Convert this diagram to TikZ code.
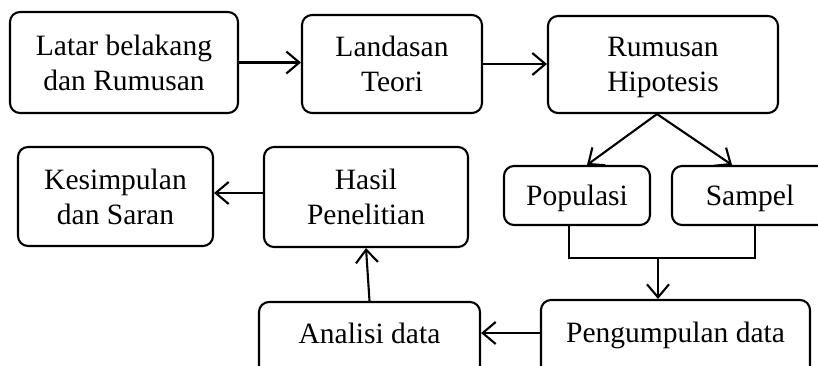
\documentclass[tikz,border=0pt]{standalone}
\usepackage{fontspec}
\setmainfont{Liberation Serif}
\usetikzlibrary{arrows.meta,calc}
\begin{document}
\begin{tikzpicture}[x=1pt,y=-1pt,
 box/.style={draw,line width=2.1pt,rounded corners=10pt,align=center,inner sep=0pt,text depth=0pt,font=\fontsize{29.5}{35}\selectfont},
 lowtext/.style={text depth=12pt},
 arr/.style={line width=2.1pt,-{Straight Barb[length=13pt,width=22pt]}},
 ln/.style={line width=2.1pt}]
\useasboundingbox (0,0) rectangle (818,365);
\clip (0,0) rectangle (818,365);
\node[box,minimum width=228pt,minimum height=101pt] (lb) at (124,62.5) {Latar belakang\\dan Rumusan};
\node[box,minimum width=180pt,minimum height=98pt] (lt) at (392,64) {Landasan\\Teori};
\node[box,minimum width=230pt,minimum height=97pt] (rh) at (663,64.5) {Rumusan\\Hipotesis};
\node[box,minimum width=146pt,minimum height=59pt] (pop) at (577,195.5) {Populasi};
\node[box,minimum width=156pt,minimum height=59pt] (sam) at (750,195.5) {Sampel};
\node[box,lowtext,minimum width=269pt,minimum height=76pt] (pd) at (675.5,338) {Pengumpulan data};
\node[box,lowtext,minimum width=221pt,minimum height=74pt] (ad) at (369.5,339) {Analisi data};
\node[box,minimum width=204pt,minimum height=100pt] (hp) at (366,197) {Hasil\\Penelitian};
\node[box,minimum width=195pt,minimum height=99pt] (ks) at (115.5,196.5) {Kesimpulan\\dan Saran};
\draw[arr] (lb.east) -- (lb.east -| lt.west);
\draw[arr] (lt.east) -- (lt.east -| rh.west);
\coordinate (apex) at ($(rh.south)+(-6,0)$);
\draw[arr] (apex) -- ($(pop.north)+(10,0)$);
\draw[arr] (apex) -- ($(sam.north)+(-18,0)$);
\coordinate (j) at (658,258);
\draw[ln] ($(pop.south)+(-8,0)$) |- (j) -| ($(sam.south)+(5,0)$);
\draw[arr] (j) -- (j |- pd.north);
\coordinate (pw) at ($(pd.west)+(0,-5)$);
\draw[arr] (pw) -- (pw -| ad.east);
\draw[arr] (ad.north) -- (hp.south);
\coordinate (hw) at ($(hp.west)+(0,-4)$);
\draw[arr] (hw) -- (hw -| ks.east);
\end{tikzpicture}
\end{document}
